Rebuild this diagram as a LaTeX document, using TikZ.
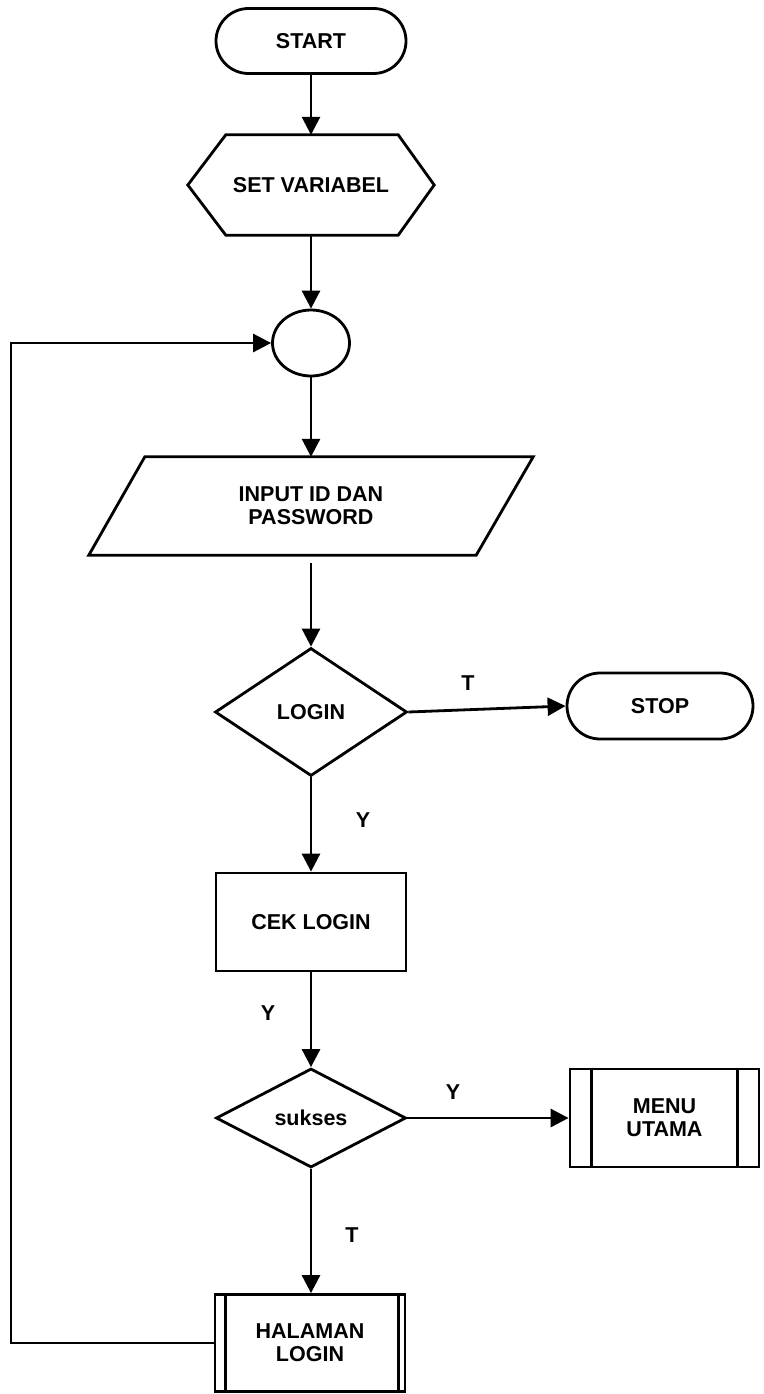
\documentclass[tikz,border=0pt]{standalone}
\usepackage{fontspec}
\setmainfont{Liberation Sans}
\usetikzlibrary{shapes.geometric,shapes.misc,arrows.meta}
\begin{document}
\begin{tikzpicture}[x=1pt,y=-1pt,
  every node/.style={font=\fontsize{21.5}{23}\selectfont\bfseries, align=center, inner sep=0pt},
  ln/.style={line width=2.8pt},
  arr/.style={ln, -{Triangle[length=18pt,width=18pt]}},
  term/.style={rounded rectangle, draw, ln, minimum width=190pt, minimum height=65pt},
  procbox/.style={rectangle, draw, ln, minimum width=190pt, minimum height=98pt},
  decis/.style={diamond, draw, ln, aspect=1.5, minimum width=192pt},
  shapebox/.style={rectangle, minimum width=246pt, minimum height=100pt}
]
\useasboundingbox (0,0) rectangle (763,1394);

% nodes
\node[term] (start) at (311,41) {START};
\node[shapebox] (setv) at (311,185) {SET VARIABEL};
\draw[ln, line join=miter] (setv.west) -- ([xshift=38pt]setv.north west) -- ([xshift=-36pt]setv.north east) -- (setv.east) -- ([xshift=-36pt]setv.south east) -- ([xshift=38pt]setv.south west) -- cycle;
\node[ellipse, draw, ln, minimum width=77pt, minimum height=66pt] (circ) at (311,343) {};
\node[rectangle, minimum width=444pt, minimum height=98pt] (inp) at (311,506) {INPUT ID DAN\\PASSWORD};
\draw[ln, line join=miter] ([xshift=56pt]inp.north west) -- (inp.north east) -- ([xshift=-57pt]inp.south east) -- (inp.south west) -- cycle;
\node[decis, minimum height=128pt] (login) at (311,712) {LOGIN};
\node[term, minimum width=186pt, minimum height=66pt] (stop) at (660,706) {STOP};
\node[procbox] (cek) at (311,922) {CEK LOGIN};
\node[decis, minimum width=190pt, minimum height=99pt] (sukses) at (311,1118) {sukses};
\node[procbox, minimum width=189pt] (menu) at (664.5,1118) {MENU\\UTAMA};
\draw[ln] ([xshift=23pt]menu.north west) -- ([xshift=23pt]menu.south west);
\draw[ln] ([xshift=-23pt]menu.north east) -- ([xshift=-23pt]menu.south east);
\node[procbox, minimum height=97pt] (hal) at (310,1343) {HALAMAN\\LOGIN};
\draw[ln] ([xshift=12pt]hal.north west) -- ([xshift=12pt]hal.south west);
\draw[ln] ([xshift=-8pt]hal.north east) -- ([xshift=-8pt]hal.south east);

% labels
\node (lt1) at (468,683) {T};
\node (ly1) at (363,820) {Y};
\node (ly2) at (268,1013) {Y};
\node (ly3) at (453,1092) {Y};
\node (lt2) at (352,1235) {T};

% connectors
\coordinate (lc) at (11,1343);
\draw[arr] (start.south) -- (setv.south |- setv.north);
\draw[arr] (setv.south) -- (circ.north);
\draw[arr] (circ.south) -- (inp.north);
\draw[arr, shorten <=8pt] (inp.south) -- (login.north);
\draw[arr] (login.east) -- (stop.west);
\draw[arr] (login.south) -- (cek.north);
\draw[arr] (cek.south) -- (sukses.north);
\draw[arr] (sukses.east) -- (menu.west);
\draw[arr] (sukses.south) -- (hal.north -| sukses.south);
\draw[arr] (hal.west) -- (lc) |- (circ.west);
\end{tikzpicture}
\end{document}
